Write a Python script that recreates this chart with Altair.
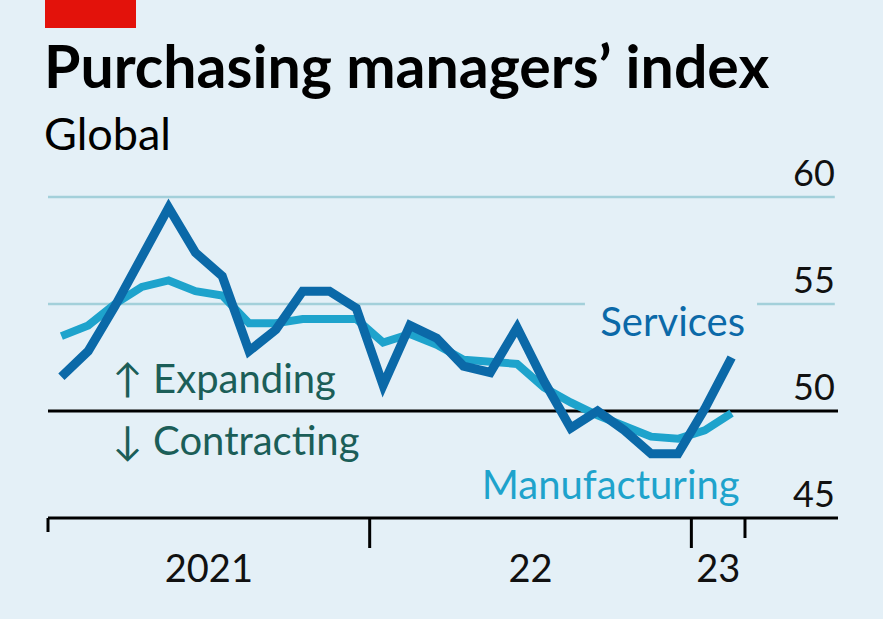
import altair as alt
import pandas as pd

# ---- data (monthly, Jan 2021 .. Feb 2023) ----
months = ["2021-01", "2021-02", "2021-03", "2021-04", "2021-05", "2021-06",
          "2021-07", "2021-08", "2021-09", "2021-10", "2021-11", "2021-12",
          "2022-01", "2022-02", "2022-03", "2022-04", "2022-05", "2022-06",
          "2022-07", "2022-08", "2022-09", "2022-10", "2022-11", "2022-12",
          "2023-01", "2023-02"]
services = [51.6, 52.8, 54.9, 57.2, 59.5, 57.4, 56.3, 52.8, 53.8, 55.6, 55.6, 54.8,
            51.2, 54.0, 53.4, 52.1, 51.8, 53.9, 51.4, 49.2, 50.0, 49.1, 48.0, 48.0,
            50.1, 52.5]
manufacturing = [53.5, 54.0, 55.0, 55.8, 56.1, 55.6, 55.4, 54.1, 54.1, 54.3, 54.3, 54.3,
                 53.2, 53.6, 53.1, 52.4, 52.3, 52.2, 51.1, 50.4, 49.8, 49.3, 48.8, 48.7,
                 49.1, 49.9]

title_text = "Purchasing managers’ index"
subtitle_text = "Global"
y_ticks = [45, 50, 55, 60]
year_labels = ["2021", "22", "23"]
year_label_pos = [6, 18, 25]          # months from Jan 2021 (centre of each year span)
long_ticks = [12, 24]                 # year boundaries
short_ticks = [0, 26]                 # ends of the series span

X_MAX = 29.47                         # extent of the chart area in months
W, H = 790, 321

BG = "#e4f0f7"
DARK = "#0b69a8"
LIGHT = "#1ea3cc"
GRID = "#a3d0da"
TEAL = "#1b5e58"
FONT = "Lato"

pos = [i + 0.5 for i in range(len(months))]
df = pd.DataFrame({
    "pos": pos * 2,
    "value": services + manufacturing,
    "series": ["Services"] * len(months) + ["Manufacturing"] * len(months),
})

xs = alt.Scale(domain=[0, X_MAX], nice=False, zero=False)
ys = alt.Scale(domain=[45, 60], nice=False, zero=False)


def X(f):
    return alt.X(f, type="quantitative", scale=xs, axis=None)


def Y(f):
    return alt.Y(f, type="quantitative", scale=ys, axis=None)


grid_df = pd.DataFrame({"v": [60, 55, 55], "x0": [0, 0, 26.45], "x1": [29.35, 20.03, 29.35]})
grid = alt.Chart(grid_df).mark_rule(color=GRID, strokeWidth=2.5).encode(
    x=X("x0"), x2="x1", y=Y("v"))

zero_df = pd.DataFrame({"v": [50, 45], "x0": [0, 0], "x1": [29.47, 29.47]})
baseline = alt.Chart(zero_df).mark_rule(color="#000000", strokeWidth=3).encode(
    x=X("x0"), x2="x1", y=Y("v"))

ylab_df = pd.DataFrame({"v": y_ticks, "x": [29.35] * 4, "t": [str(v) for v in y_ticks]})
ylabels = alt.Chart(ylab_df).mark_text(
    align="right", baseline="alphabetic", dy=-11, font=FONT, fontSize=36, color="#111111"
).encode(x=X("x"), y=Y("v"), text="t:N")


def tick_layer(ms, length):
    d = pd.DataFrame({"m": ms, "v": [45] * len(ms)})
    return alt.Chart(d).mark_rule(color="#000000", strokeWidth=3).encode(
        x=X("m"), y=Y("v"), y2=alt.value(H + length))


lticks = tick_layer(long_ticks, 30)
sticks = tick_layer(short_ticks[:1], 14)
sticks2 = tick_layer(short_ticks[1:], 20)

xl_df = pd.DataFrame({"m": year_label_pos, "t": year_labels, "v": [45] * 3})
xlabels = alt.Chart(xl_df).mark_text(
    align="center", baseline="alphabetic", dy=64, font=FONT, fontSize=38, color="#111111"
).encode(x=X("m"), y=Y("v"), text="t:N")

manu_line = alt.Chart(df[df.series == "Manufacturing"]).mark_line(
    color=LIGHT, strokeWidth=8, strokeJoin="miter").encode(x=X("pos"), y=Y("value"))
serv_line = alt.Chart(df[df.series == "Services"]).mark_line(
    color=DARK, strokeWidth=9, strokeJoin="miter").encode(x=X("pos"), y=Y("value"))


def label(txt, x, v, color, align):
    d = pd.DataFrame({"t": [txt], "x": [x], "v": [v]})
    return alt.Chart(d).mark_text(
        align=align, baseline="middle", font=FONT, fontSize=40, color=color
    ).encode(x=X("x"), y=Y("v"), text="t:N")


serv_lab = label("Services", 26.0, 54.07, DARK, "right")
manu_lab = label("Manufacturing", 25.8, 46.45, LIGHT, "right")
exp_lab = label("↑ Expanding", 2.42, 51.4, TEAL, "left")
con_lab = label("↓ Contracting", 2.42, 48.5, TEAL, "left")

one = pd.DataFrame({"a": [0]})
red = alt.Chart(one).mark_rect(color="#e3120b").encode(
    x=alt.value(-3), x2=alt.value(88), y=alt.value(-197), y2=alt.value(-169))

title = alt.Chart(one).mark_text(
    align="left", baseline="alphabetic", font=FONT, fontSize=59, fontWeight="bold",
    color="#000000", text=title_text
).encode(x=alt.value(-4), y=alt.value(-109))
subtitle = alt.Chart(one).mark_text(
    align="left", baseline="alphabetic", font=FONT, fontSize=45,
    color="#000000", text=subtitle_text
).encode(x=alt.value(-4), y=alt.value(-47))

chart = alt.layer(
    red, title, subtitle, grid, baseline, lticks, sticks, sticks2, ylabels, xlabels,
    exp_lab, con_lab, manu_line, serv_line, serv_lab, manu_lab
).properties(
    width=W, height=H,
    autosize=alt.AutoSizeParams(type="none"),
    padding={"left": 48, "top": 197, "right": 45, "bottom": 101},
    background=BG,
).configure_view(stroke=None)

chart.save("out.html", embed_options={"renderer": "svg", "actions": False})
